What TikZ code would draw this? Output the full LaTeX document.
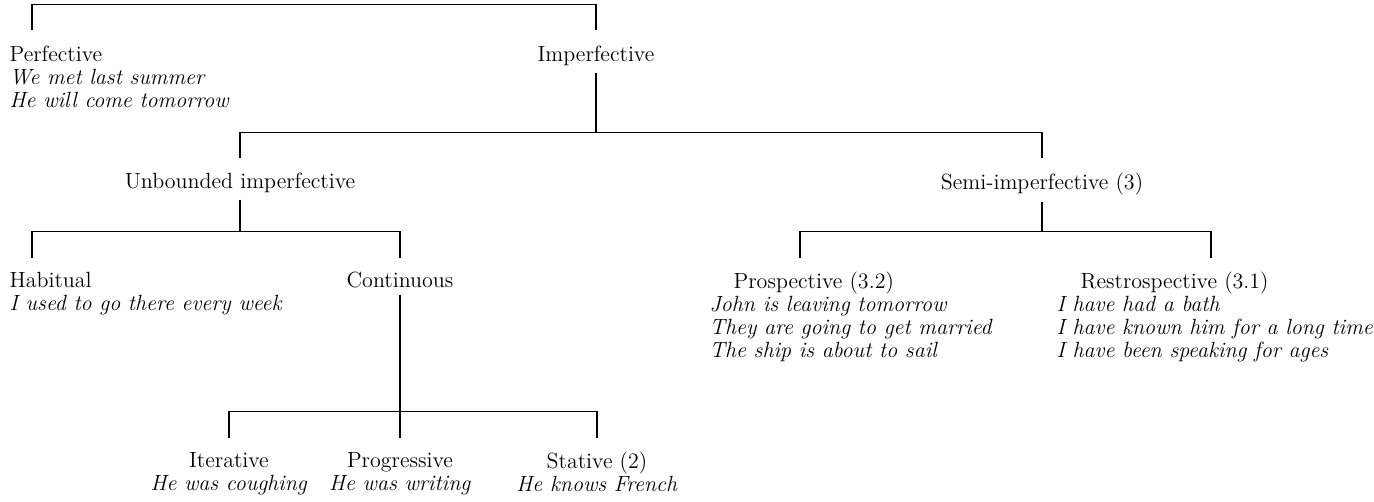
\documentclass[tikz,border=0pt]{standalone}
\tikzset{
  cat/.style={inner sep=0pt, font=\fontsize{11}{11.5}\selectfont},
  drop/.style={to path={([yshift=-3pt]\tikztostart) |- ([xshift=#1,yshift=20pt]\tikztotarget) -- ([xshift=#1,yshift=7pt]\tikztotarget)}},
  drop/.default=0pt
}
\begin{document}
\begin{tikzpicture}[x=0.5pt,y=-0.5pt,line width=0.7pt]
    \useasboundingbox (0,0) rectangle (1374,502);
    \node[cat,anchor=north west,align=left] (perf) at (9,45.5) {Perfective\\\textit{We met last summer}\\\textit{He will come tomorrow}};
    \node[cat,anchor=north] (imperf) at (596,45.5) {Imperfective};
    \node[cat,anchor=north] (unb) at (240,172.5) {Unbounded imperfective};
    \node[cat,anchor=north] (semi) at (1042,172.5) {Semi-imperfective (3)};
    \node[cat,anchor=north west,align=left] (hab) at (9,271.5) {Habitual\\\textit{I used to go there every week}};
    \node[cat,anchor=north] (cont) at (400,271.5) {Continuous};
    \node[cat,anchor=north west,align=left] (prosp) at (709,271.5) {\hspace{12pt}Prospective (3.2)\\\textit{John is leaving tomorrow}\\\textit{They are going to get married}\\\textit{The ship is about to sail}};
    \node[cat,anchor=north west,align=left] (retro) at (1056,271.5) {\hspace{12pt}Restrospective (3.1)\\\textit{I have had a bath}\\\textit{I have known him for a long time}\\\textit{I have been speaking for ages}};
    \node[cat,anchor=north,align=center] (iter) at (229,451.5) {Iterative\\\textit{He was coughing}};
    \node[cat,anchor=north,align=center] (prog) at (400,451.5) {Progressive\\\textit{He was writing}};
    \node[cat,anchor=north,align=center] (stat) at (597,451.5) {Stative (2)\\\textit{He knows French}};

    \draw ([xshift=11.5pt,yshift=7.5pt]perf.north west) |- ([yshift=20.5pt]imperf.north) -- ([yshift=7.5pt]imperf.north);
    \draw (imperf.south) to[drop] (unb.north);
    \draw (imperf.south) to[drop] (semi.north);
    \draw (unb.south) to[drop=11.5pt] (hab.north west);
    \draw (unb.south) to[drop] (cont.north);
    \draw (semi.south) to[drop=45.5pt] (prosp.north west);
    \draw (semi.south) to[drop=77.5pt] (retro.north west);
    \foreach \c in {iter,prog,stat}
        \draw (cont.south) to[drop] (\c.north);
\end{tikzpicture}
\end{document}
